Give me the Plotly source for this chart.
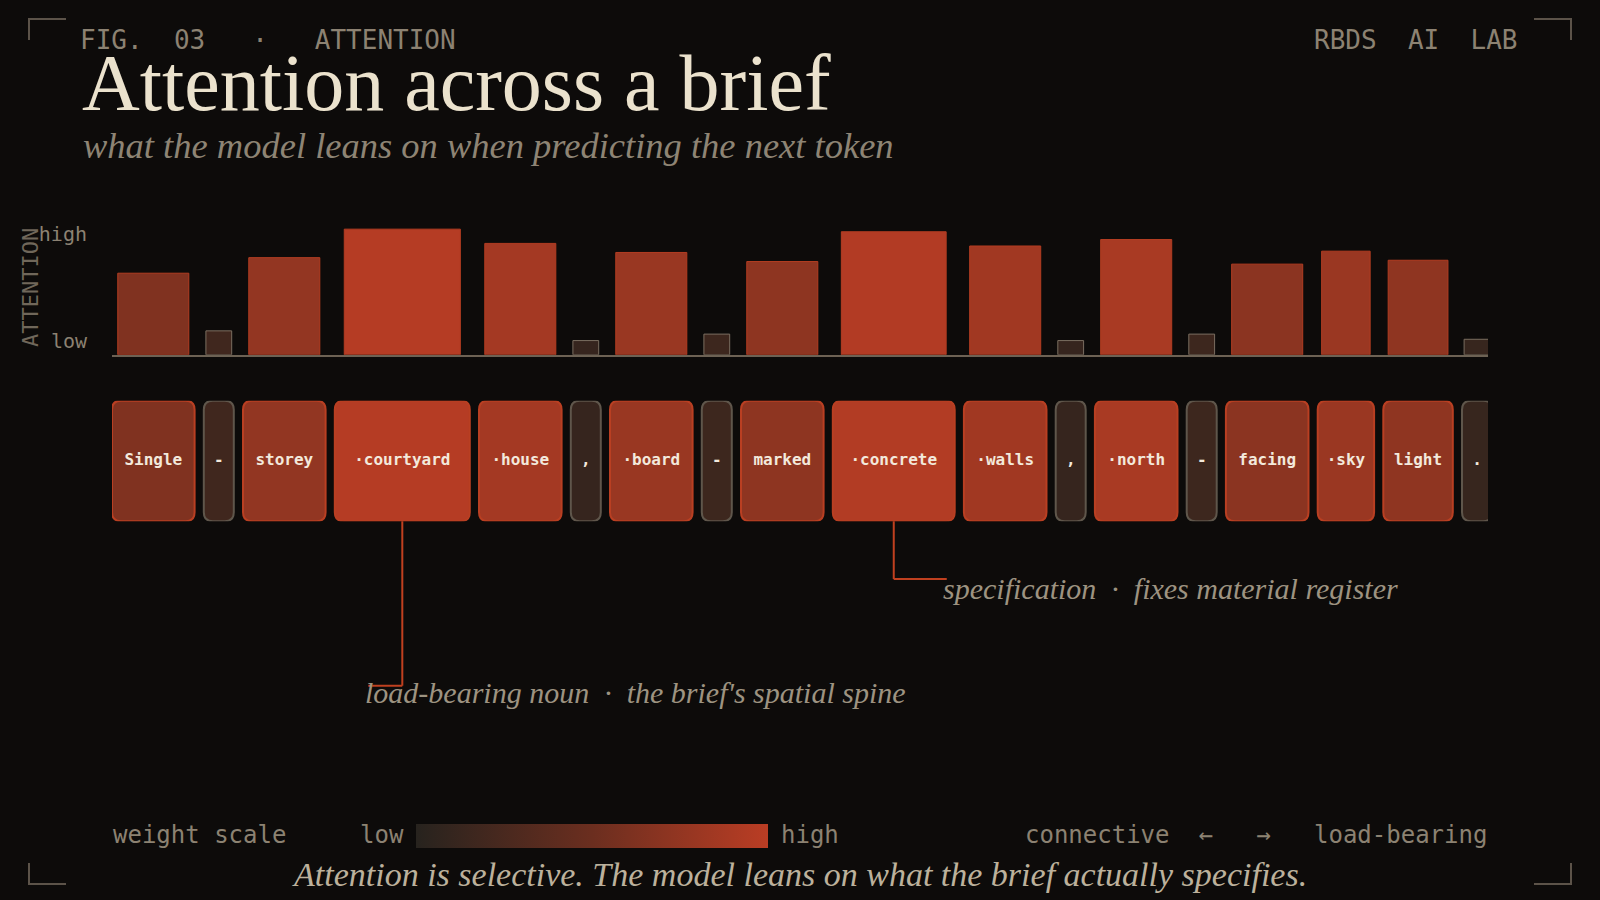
import plotly.graph_objects as go
from plotly.colors import sample_colorscale

# the brief, token by token ("·" marks a leading space)
tokens = ["Single", "-", "storey", "·courtyard", "·house", ",", "·board", "-",
          "marked", "·concrete", "·walls", ",", "·north", "-", "facing",
          "·sky", "light", "."]
# attention weight (0 = none, 1 = full)
weights = [0.63, 0.185, 0.75, 0.97, 0.86, 0.11, 0.79, 0.16, 0.72, 0.95,
           0.84, 0.11, 0.89, 0.16, 0.70, 0.80, 0.73, 0.12]
connectives = ["-", ",", "."]

scale_ticks = [0.11, 0.93]
scale_labels = ["low", "high"]

callout_tokens = ["·courtyard", "·concrete"]
callout_texts = ["load-bearing noun  ·  the brief's spatial spine",
                 "specification  ·  fixes material register"]

W, H = 1600, 900
BG = "#0d0b0a"
MONO = "DejaVu Sans Mono"
SERIF = "Liberation Serif"
MUTED = "#8c8272"
SCALE = [[0, "#27231e"], [0.5, "#6b2e1f"], [1, "#ba3d24"]]


def py(v):
    # pixel row -> paper fraction
    return 1 - v / H


# token boxes: width grows with the text, axis units are pixels
widths = [max(13.1 * len(t) + 4, 30) for t in tokens]
gap = 9.2
lefts = []
cur = 0
for w in widths:
    lefts.append(cur)
    cur += w + gap
centers = [l + w / 2 for l, w in zip(lefts, widths)]
is_conn = [t in connectives for t in tokens]
fills = sample_colorscale(SCALE, weights)

fig = go.Figure()

fig.add_trace(go.Bar(
    x=centers,
    y=weights,
    width=[w * 0.86 for w in widths],
    marker=dict(
        color=weights,
        colorscale=SCALE,
        cmin=0,
        cmax=1,
        line=dict(color=["#7a6e60" if c else "#b33d22" for c in is_conn], width=1),
        showscale=True,
        colorbar=dict(
            orientation="h",
            x=592 / W, xanchor="center",
            y=py(836), yanchor="middle",
            len=352, lenmode="pixels",
            thickness=24, thicknessmode="pixels",
            showticklabels=False, ticks="",
            outlinewidth=0, xpad=0, ypad=0,
        ),
    ),
    hoverinfo="skip",
    showlegend=False,
))

fig.add_trace(go.Scatter(
    x=centers,
    y=[0.5] * len(tokens),
    mode="text",
    text=tokens,
    textfont=dict(family=MONO, size=16, color="#f3e9dc", weight="bold"),
    xaxis="x",
    yaxis="y2",
    hoverinfo="skip",
    showlegend=False,
))

shapes = []
# rounded token boxes
r = 9
ry = r / 121
for l, w, f, c in zip(lefts, widths, fills, is_conn):
    x0, x1 = l, l + w
    path = (f"M {x0 + r},0 L {x1 - r},0 Q {x1},0 {x1},{ry} L {x1},{1 - ry} "
            f"Q {x1},1 {x1 - r},1 L {x0 + r},1 Q {x0},1 {x0},{1 - ry} "
            f"L {x0},{ry} Q {x0},0 {x0 + r},0 Z")
    shapes.append(dict(type="path", path=path, xref="x", yref="y2",
                       fillcolor=f, line=dict(color="#5f564b" if c else "#b93f22", width=2),
                       layer="below"))

# callout leaders
drop_y = [685, 578]
leader_dx = [-34, 53]
text_dx = [-39, 47]
text_y = [692, 587]
annotations = []
for tok, txt, dy, ldx, tdx, ty in zip(callout_tokens, callout_texts, drop_y, leader_dx, text_dx, text_y):
    cx = centers[tokens.index(tok)]
    shapes.append(dict(type="line", xref="x", yref="paper", x0=cx, x1=cx,
                       y0=py(520), y1=py(dy), line=dict(color="#c0401f", width=2)))
    shapes.append(dict(type="line", xref="x", yref="paper", x0=cx, x1=cx + ldx,
                       y0=py(dy), y1=py(dy), line=dict(color="#c0401f", width=2)))
    annotations.append(dict(x=cx + tdx, y=py(ty), xref="x", yref="paper", text=txt,
                            showarrow=False, xanchor="left", yanchor="middle",
                            font=dict(family=SERIF, size=30, style="italic", color="#9d9381")))

# corner brackets
for bx, by, sx, sy in [(29, 16, 1, 1), (1571, 16, -1, 1), (29, 884, 1, -1), (1571, 884, -1, -1)]:
    shapes.append(dict(type="path", xref="paper", yref="paper",
                       path=f"M {(bx) / W},{py(by + sy * 21)} L {bx / W},{py(by)} L {(bx + sx * 37) / W},{py(by)}",
                       line=dict(color="#5c5349", width=2)))


def label(text, x, y, size, color, family=MONO, anchor="left", style="normal", angle=0):
    annotations.append(dict(x=x / W, y=py(y), xref="paper", yref="paper", text=text,
                            showarrow=False, xanchor=anchor, yanchor="middle", textangle=angle,
                            font=dict(family=family, size=size, color=color, style=style)))


label("FIG.  03   ·   ATTENTION", 78, 37, 26, MUTED)
label("RBDS  AI  LAB", 1520, 37, 26, MUTED, anchor="right")
label("Attention across a brief", 80, 80, 80, "#ebe2cd", family=SERIF)
label("what the model leans on when predicting the next token", 81, 143, 36.5, "#8e8474",
      family=SERIF, style="italic")
label("ATTENTION", 30, 286, 22, "#70675a", angle=-90, anchor="center")
label("weight scale", 111, 835, 24, MUTED)
label("low", 358, 835, 24, MUTED)
label("high", 779, 835, 24, MUTED)
label("connective  ←   →   load-bearing", 1489, 835, 24, MUTED, anchor="right")
label("Attention is selective. The model leans on what the brief actually specifies.",
      799, 874, 34, "#bcb19c", family=SERIF, anchor="center", style="italic")

fig.update_layout(
    width=W,
    height=H,
    margin=dict(l=0, r=0, t=0, b=0),
    paper_bgcolor=BG,
    plot_bgcolor=BG,
    showlegend=False,
    shapes=shapes,
    annotations=annotations,
    xaxis=dict(domain=[112 / W, 1488 / W], range=[0, 1376], anchor="y",
               showticklabels=False, showgrid=False, zeroline=False, ticks="",
               showline=True, linecolor="#6d6254", linewidth=2, fixedrange=True),
    yaxis=dict(domain=[py(353), py(223)], range=[0, 1], anchor="x",
               tickvals=scale_ticks, ticktext=scale_labels, ticks="",
               tickfont=dict(family=MONO, size=20, color=MUTED), ticklabelstandoff=24,
               showgrid=False, zeroline=False, showline=False, fixedrange=True),
    yaxis2=dict(domain=[py(520), py(399)], range=[0, 1], anchor="x",
                visible=False, fixedrange=True),
)

fig.write_html("out.html", config={"displayModeBar": False},
               post_script="document.body.style.margin = '0';")
